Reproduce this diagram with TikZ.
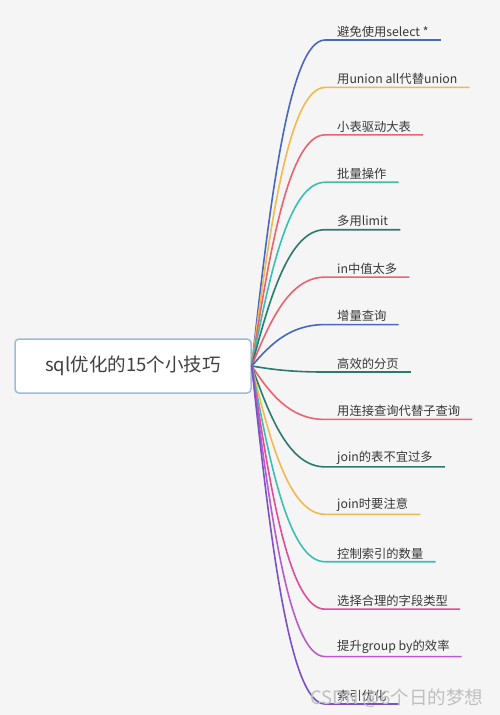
\documentclass[tikz,border=0pt]{standalone}
\usepackage{fontspec}
\setmainfont{Noto Sans CJK SC}
\usetikzlibrary{calc}
\definecolor{bg}{HTML}{F5F5F5}
\definecolor{boxc}{HTML}{9DBBDB}
\definecolor{txt}{HTML}{383838}
\definecolor{roottxt}{HTML}{404040}
\definecolor{blueB}{HTML}{4A67C0}
\definecolor{yellowB}{HTML}{F2B94F}
\definecolor{redB}{HTML}{EA6470}
\definecolor{tealB}{HTML}{3CBFB0}
\definecolor{dtealB}{HTML}{2B7A6E}
\definecolor{pinkB}{HTML}{DD4F9A}
\definecolor{magB}{HTML}{B95BC8}
\definecolor{purpB}{HTML}{7A52C8}
\begin{document}
\begin{tikzpicture}[x=1pt,y=-1pt,
  lab/.style={anchor=south west, inner xsep=12pt, inner ysep=2.5pt, font=\fontsize{12.3}{14}\selectfont, text=txt},
  br/.style={line width=1.6pt},
  rootbox/.style={draw=boxc, line width=1.5pt, fill=white, rounded corners=4pt, minimum width=236pt, minimum height=54pt, font=\fontsize{18.5}{20}\selectfont, text=roottxt},
  wmark/.style={text=gray!50, font=\fontsize{18.5}{22}\selectfont, anchor=base west, inner sep=0pt}]
\fill[bg] (0,0) rectangle (500,715);
\useasboundingbox (0,0) rectangle (500,715);
\node[rootbox] (r) at (133,366) {sql优化的15个小技巧};
\foreach \n/\c/\t in {
  1/blueB/{避免使用select *},
  2/yellowB/{用union all代替union},
  3/redB/{小表驱动大表},
  4/tealB/{批量操作},
  5/dtealB/{多用limit},
  6/redB/{in中值太多},
  7/blueB/{增量查询},
  8/dtealB/{高效的分页},
  9/redB/{用连接查询代替子查询},
  10/dtealB/{join的表不宜过多},
  11/yellowB/{join时要注意},
  12/tealB/{控制索引的数量},
  13/pinkB/{选择合理的字段类型},
  14/magB/{提升group by的效率},
  15/purpB/{索引优化}} {
  \pgfmathsetmacro\yy{40+47.43*(\n-1)}
  \node[lab] (l\n) at (325,\yy) {\t};
  \draw[br, \c] (r.east) .. controls ($(r.east)+(18,{0.5*(\yy-366)})$) and ($(l\n.south west)+(-36,0)$) .. (l\n.south west) -- (l\n.south east);
}
\node[wmark] (wm) at (310,704) {CSDN @6个日的梦想};
\end{tikzpicture}
\end{document}
